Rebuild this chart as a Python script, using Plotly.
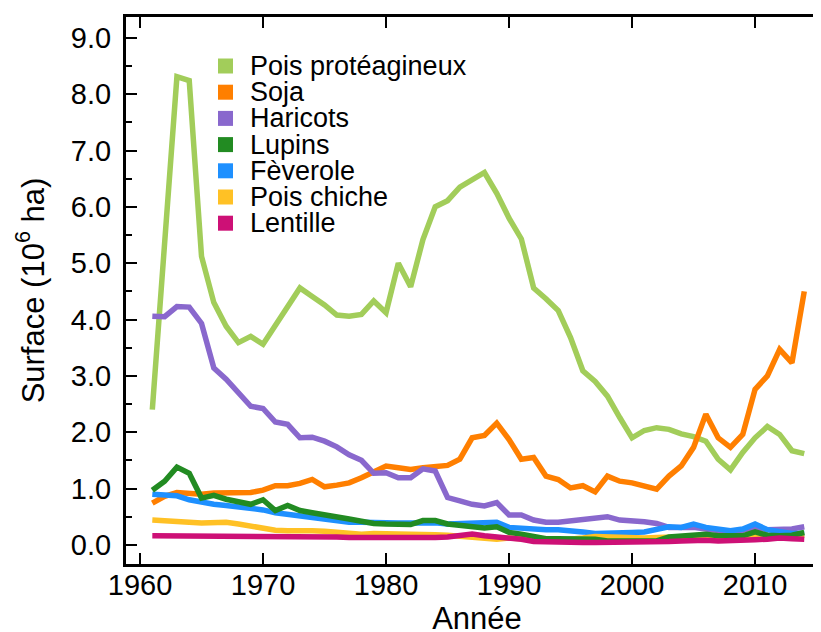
import plotly.graph_objs as go

years = list(range(1961, 2015))

pois_proteagineux = [
    2.40, 5.20, 8.31, 8.24, 5.12, 4.30, 3.88, 3.59, 3.70, 3.56,
    3.90, 4.26, 4.56, 4.41, 4.26, 4.08, 4.06, 4.09, 4.33, 4.12,
    5.00, 4.58, 5.42, 6.00, 6.11, 6.35, 6.49, 6.61, 6.24, 5.80,
    5.43, 4.56, 4.37, 4.16, 3.68, 3.09, 2.90, 2.64, 2.26, 1.90,
    2.03, 2.08, 2.05, 1.97, 1.92, 1.84, 1.52, 1.33, 1.64, 1.90,
    2.10, 1.96, 1.67, 1.62,
]
soja = [
    0.74, 0.86, 0.93, 0.92, 0.90, 0.92, 0.93, 0.93, 0.93, 0.97,
    1.05, 1.05, 1.09, 1.16, 1.03, 1.06, 1.10, 1.19, 1.30, 1.40,
    1.37, 1.34, 1.37, 1.38, 1.41, 1.52, 1.90, 1.94, 2.16, 1.87,
    1.52, 1.55, 1.22, 1.16, 1.01, 1.05, 0.94, 1.22, 1.13, 1.10,
    1.05, 0.99, 1.22, 1.40, 1.73, 2.32, 1.90, 1.73, 1.96, 2.76,
    3.00, 3.47, 3.23, 4.50,
]
haricots = [
    4.06, 4.05, 4.23, 4.22, 3.93, 3.14, 2.94, 2.70, 2.46, 2.42,
    2.18, 2.14, 1.90, 1.91, 1.84, 1.74, 1.60, 1.50, 1.27, 1.28,
    1.19, 1.19, 1.35, 1.31, 0.84, 0.78, 0.72, 0.69, 0.75, 0.53,
    0.53, 0.44, 0.40, 0.40, 0.43, 0.46, 0.48, 0.50, 0.44, 0.43,
    0.41, 0.38, 0.31, 0.31, 0.31, 0.28, 0.25, 0.23, 0.26, 0.31,
    0.27, 0.28, 0.28, 0.32,
]
lupins = [
    0.97, 1.13, 1.38, 1.27, 0.83, 0.88, 0.81, 0.76, 0.72, 0.80,
    0.61, 0.70, 0.61, 0.57, 0.54, 0.49, 0.46, 0.42, 0.38, 0.37,
    0.36, 0.36, 0.43, 0.43, 0.37, 0.34, 0.32, 0.30, 0.32, 0.22,
    0.19, 0.16, 0.11, 0.11, 0.11, 0.11, 0.10, 0.07, 0.07, 0.07,
    0.07, 0.07, 0.14, 0.16, 0.17, 0.19, 0.16, 0.15, 0.16, 0.23,
    0.17, 0.16, 0.17, 0.22,
]
feverole = [
    0.90, 0.89, 0.87, 0.80, 0.75, 0.72, 0.70, 0.68, 0.66, 0.62,
    0.57, 0.54, 0.51, 0.49, 0.47, 0.43, 0.40, 0.40, 0.39, 0.38,
    0.39, 0.39, 0.40, 0.39, 0.37, 0.38, 0.40, 0.39, 0.40, 0.31,
    0.29, 0.29, 0.27, 0.27, 0.26, 0.23, 0.20, 0.20, 0.21, 0.22,
    0.23, 0.28, 0.32, 0.31, 0.37, 0.31, 0.28, 0.25, 0.28, 0.37,
    0.27, 0.23, 0.20, 0.20,
]
pois_chiche = [
    0.44, 0.42, 0.42, 0.40, 0.39, 0.39, 0.40, 0.37, 0.33, 0.29,
    0.26, 0.25, 0.26, 0.25, 0.24, 0.22, 0.20, 0.19, 0.20, 0.20,
    0.20, 0.19, 0.19, 0.18, 0.17, 0.15, 0.13, 0.11, 0.10, 0.12,
    0.10, 0.09, 0.08, 0.08, 0.09, 0.12, 0.15, 0.14, 0.13, 0.12,
    0.12, 0.13, 0.14, 0.15, 0.15, 0.14, 0.13, 0.12, 0.13, 0.15,
    0.16, 0.14, 0.15, 0.17,
]
lentille = [
    0.16, 0.16, 0.16, 0.15, 0.16, 0.16, 0.16, 0.16, 0.15, 0.15,
    0.15, 0.16, 0.16, 0.16, 0.15, 0.14, 0.13, 0.13, 0.13, 0.13,
    0.11, 0.12, 0.13, 0.13, 0.14, 0.16, 0.19, 0.16, 0.14, 0.13,
    0.10, 0.06, 0.05, 0.04, 0.04, 0.04, 0.04, 0.04, 0.05, 0.05,
    0.05, 0.05, 0.06, 0.07, 0.08, 0.08, 0.07, 0.07, 0.08, 0.09,
    0.10, 0.12, 0.11, 0.10,
]

# legend order, colours as in the original (R colour names)
series = [
    ('Pois protéagineux', pois_proteagineux, '#a2cd5a'),
    ('Soja', soja, '#ff7f00'),
    ('Haricots', haricots, '#8968cd'),
    ('Lupins', lupins, '#228b22'),
    ('Fèverole', feverole, '#1e90ff'),
    ('Pois chiche', pois_chiche, '#ffc125'),
    ('Lentille', lentille, '#cd1076'),
]
draw_order = ['Pois protéagineux', 'Soja', 'Haricots', 'Fèverole', 'Pois chiche', 'Lupins', 'Lentille']

x_ticks = [1960, 1970, 1980, 1990, 2000, 2010]
font = 'Liberation Sans, Arial, Helvetica, sans-serif'

# the page body adds an 8px offset, so the plot frame is placed 8px up/left
W, H = 821, 632
margin = {'l': 118, 'r': 1, 't': 9, 'b': 76}
plot_w = W - margin['l'] - margin['r']
plot_h = H - margin['t'] - margin['b']

fig = go.Figure()

by_name = {name: (vals, col) for name, vals, col in series}
for name in draw_order:
    vals, col = by_name[name]
    fig.add_trace(go.Scatter(x=years, y=vals, mode='lines', name=name, showlegend=False,
                             line={'color': col, 'width': 5.5}))

# hand-made legend: the original packs its rows tighter than plotly's legend can
# (positions in figure pixels, measured from the plot frame)
leg_left, leg_top, row_h, key, text_left = 92, 49, 26.2, 15, 122
for i, (name, _, col) in enumerate(series):
    y_mid = 1 - (leg_top + i * row_h) / plot_h
    fig.add_shape(type='rect', xref='paper', yref='paper', line={'width': 0}, fillcolor=col,
                  x0=leg_left / plot_w, x1=(leg_left + key) / plot_w,
                  y0=y_mid - key / 2 / plot_h, y1=y_mid + key / 2 / plot_h)
    fig.add_annotation(text=name, xref='paper', yref='paper', showarrow=False,
                       x=text_left / plot_w, y=y_mid, xanchor='left', yanchor='middle',
                       font={'size': 27, 'color': 'black'})

axes_config = {
    'showline': True,
    'linewidth': 3,
    'linecolor': 'black',
    'mirror': 'ticks',
    'ticks': 'inside',
    'ticklen': 11,
    'tickwidth': 2,
    'tickcolor': 'black',
    'showgrid': False,
    'zeroline': False,
    'automargin': False,
    'tickfont': {'size': 29, 'color': 'black'},
}

fig.update_xaxes(**axes_config, range=[1958.86, 2015.93], tickvals=x_ticks, ticklabelstandoff=-7,
                 title={'text': 'Année', 'standoff': 4, 'font': {'size': 31, 'color': 'black'}})
fig.update_yaxes(**axes_config, range=[-0.34, 9.37], tick0=0, dtick=1, tickformat='.1f',
                 ticklabelstandoff=6,
                 minor={'ticks': 'inside', 'dtick': 0.5, 'ticklen': 6, 'tickwidth': 2, 'tickcolor': 'black'},
                 title={'text': 'Surface (10<sup>6</sup> ha)', 'standoff': 18,
                        'font': {'size': 31, 'color': 'black'}})

fig.update_layout(
    width=W, height=H,
    margin=margin,
    plot_bgcolor='white', paper_bgcolor='white',
    font={'family': font, 'color': 'black'},
    showlegend=False,
)

fig.write_html("out.html")
